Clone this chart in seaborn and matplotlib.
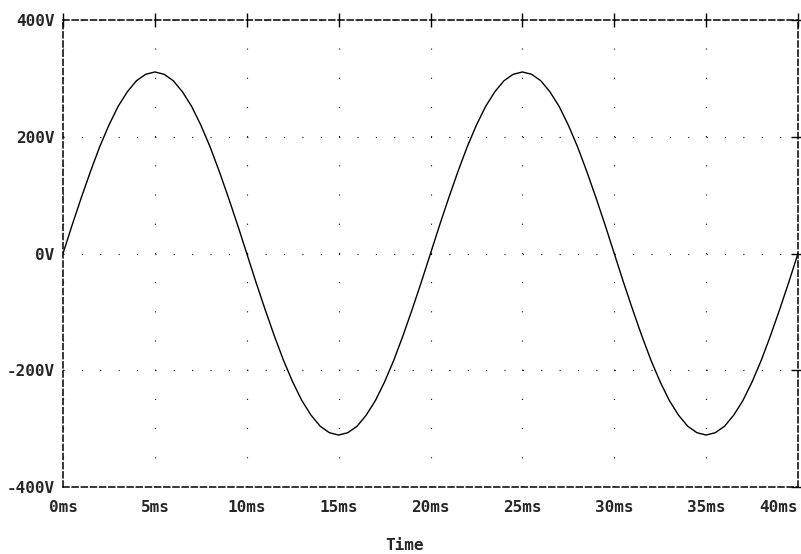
import numpy as np
import pandas as pd
import matplotlib
matplotlib.use("Agg")
import matplotlib.pyplot as plt
import matplotlib.transforms as mtransforms
import seaborn as sns

# ---- data ----
time_ms = np.linspace(0, 40, 81)
voltage = [0, 49, 96, 141, 183, 220, 252, 277, 296, 307, 311, 307, 296, 277, 252, 220, 183, 141, 96, 49,
           0, -49, -96, -141, -183, -220, -252, -277, -296, -307, -311, -307, -296, -277, -252, -220, -183, -141, -96, -49,
           0, 49, 96, 141, 183, 220, 252, 277, 296, 307, 311, 307, 296, 277, 252, 220, 183, 141, 96, 49,
           0, -49, -96, -141, -183, -220, -252, -277, -296, -307, -311, -307, -296, -277, -252, -220, -183, -141, -96, -49,
           0]
x_ticks = [0, 5, 10, 15, 20, 25, 30, 35, 40]
x_labels = ["0ms", "5ms", "10ms", "15ms", "20ms", "25ms", "30ms", "35ms", "40ms"]
y_ticks = [-400, -200, 0, 200, 400]
y_labels = ["-400V", "-200V", "0V", "200V", "400V"]
x_title = "Time"

sns.set_style("white")
plt.rcParams["font.family"] = ["DejaVu Sans Mono", "DejaVu Sans"]
plt.rcParams["lines.scale_dashes"] = False

df = pd.DataFrame({"t": time_ms, "v": voltage})

fig = plt.figure(figsize=(8.01, 5.54), dpi=100)
W, H = 801, 554
ax = fig.add_axes([63 / W, 1 - 487 / H, (798 - 63) / W, (487 - 20) / H])

sns.lineplot(data=df, x="t", y="v", ax=ax, color="black", lw=1.0, estimator=None)

ax.set_xlim(0, 40)
ax.set_ylim(-400, 400)
ax.set_xticks(x_ticks)
xl = ax.set_xticklabels(x_labels, fontweight="bold", fontsize=11.5)
ax.set_yticks(y_ticks)
yl = ax.set_yticklabels(y_labels, fontweight="bold", fontsize=11.5)
xl[-1].set_ha("right")
ax.set_xlabel("")
ax.set_ylabel("")

# small vertical nudges seen in the reference
yl[4].set_transform(yl[4].get_transform() + mtransforms.ScaledTranslation(0, 4 / 100, fig.dpi_scale_trans))
yl[2].set_transform(yl[2].get_transform() + mtransforms.ScaledTranslation(0, -7 / 100, fig.dpi_scale_trans))

ax.tick_params(axis="both", direction="inout", length=10, width=1.0, color="black",
               top=True, right=True, labeltop=False, labelright=False)
ax.tick_params(axis="x", pad=4)
ax.tick_params(axis="y", pad=1)

# dotted grid
ax.xaxis.grid(True, color="black", lw=0.85, linestyle=(0, (0.75, 20.27)))
ax.yaxis.grid(True, color="black", lw=0.85, linestyle=(0, (0.75, 12.48)))
ax.set_axisbelow(True)

for s in ax.spines.values():
    s.set_visible(True)
    s.set_color("black")
    s.set_linewidth(1.1)
    s.set_linestyle((0, (4.3, 2.3)))

fig.text(405 / W, 1 - 546 / H, x_title, ha="center", va="center", fontweight="bold", fontsize=11.5)

fig.savefig("out.png", dpi=100, facecolor="white")
